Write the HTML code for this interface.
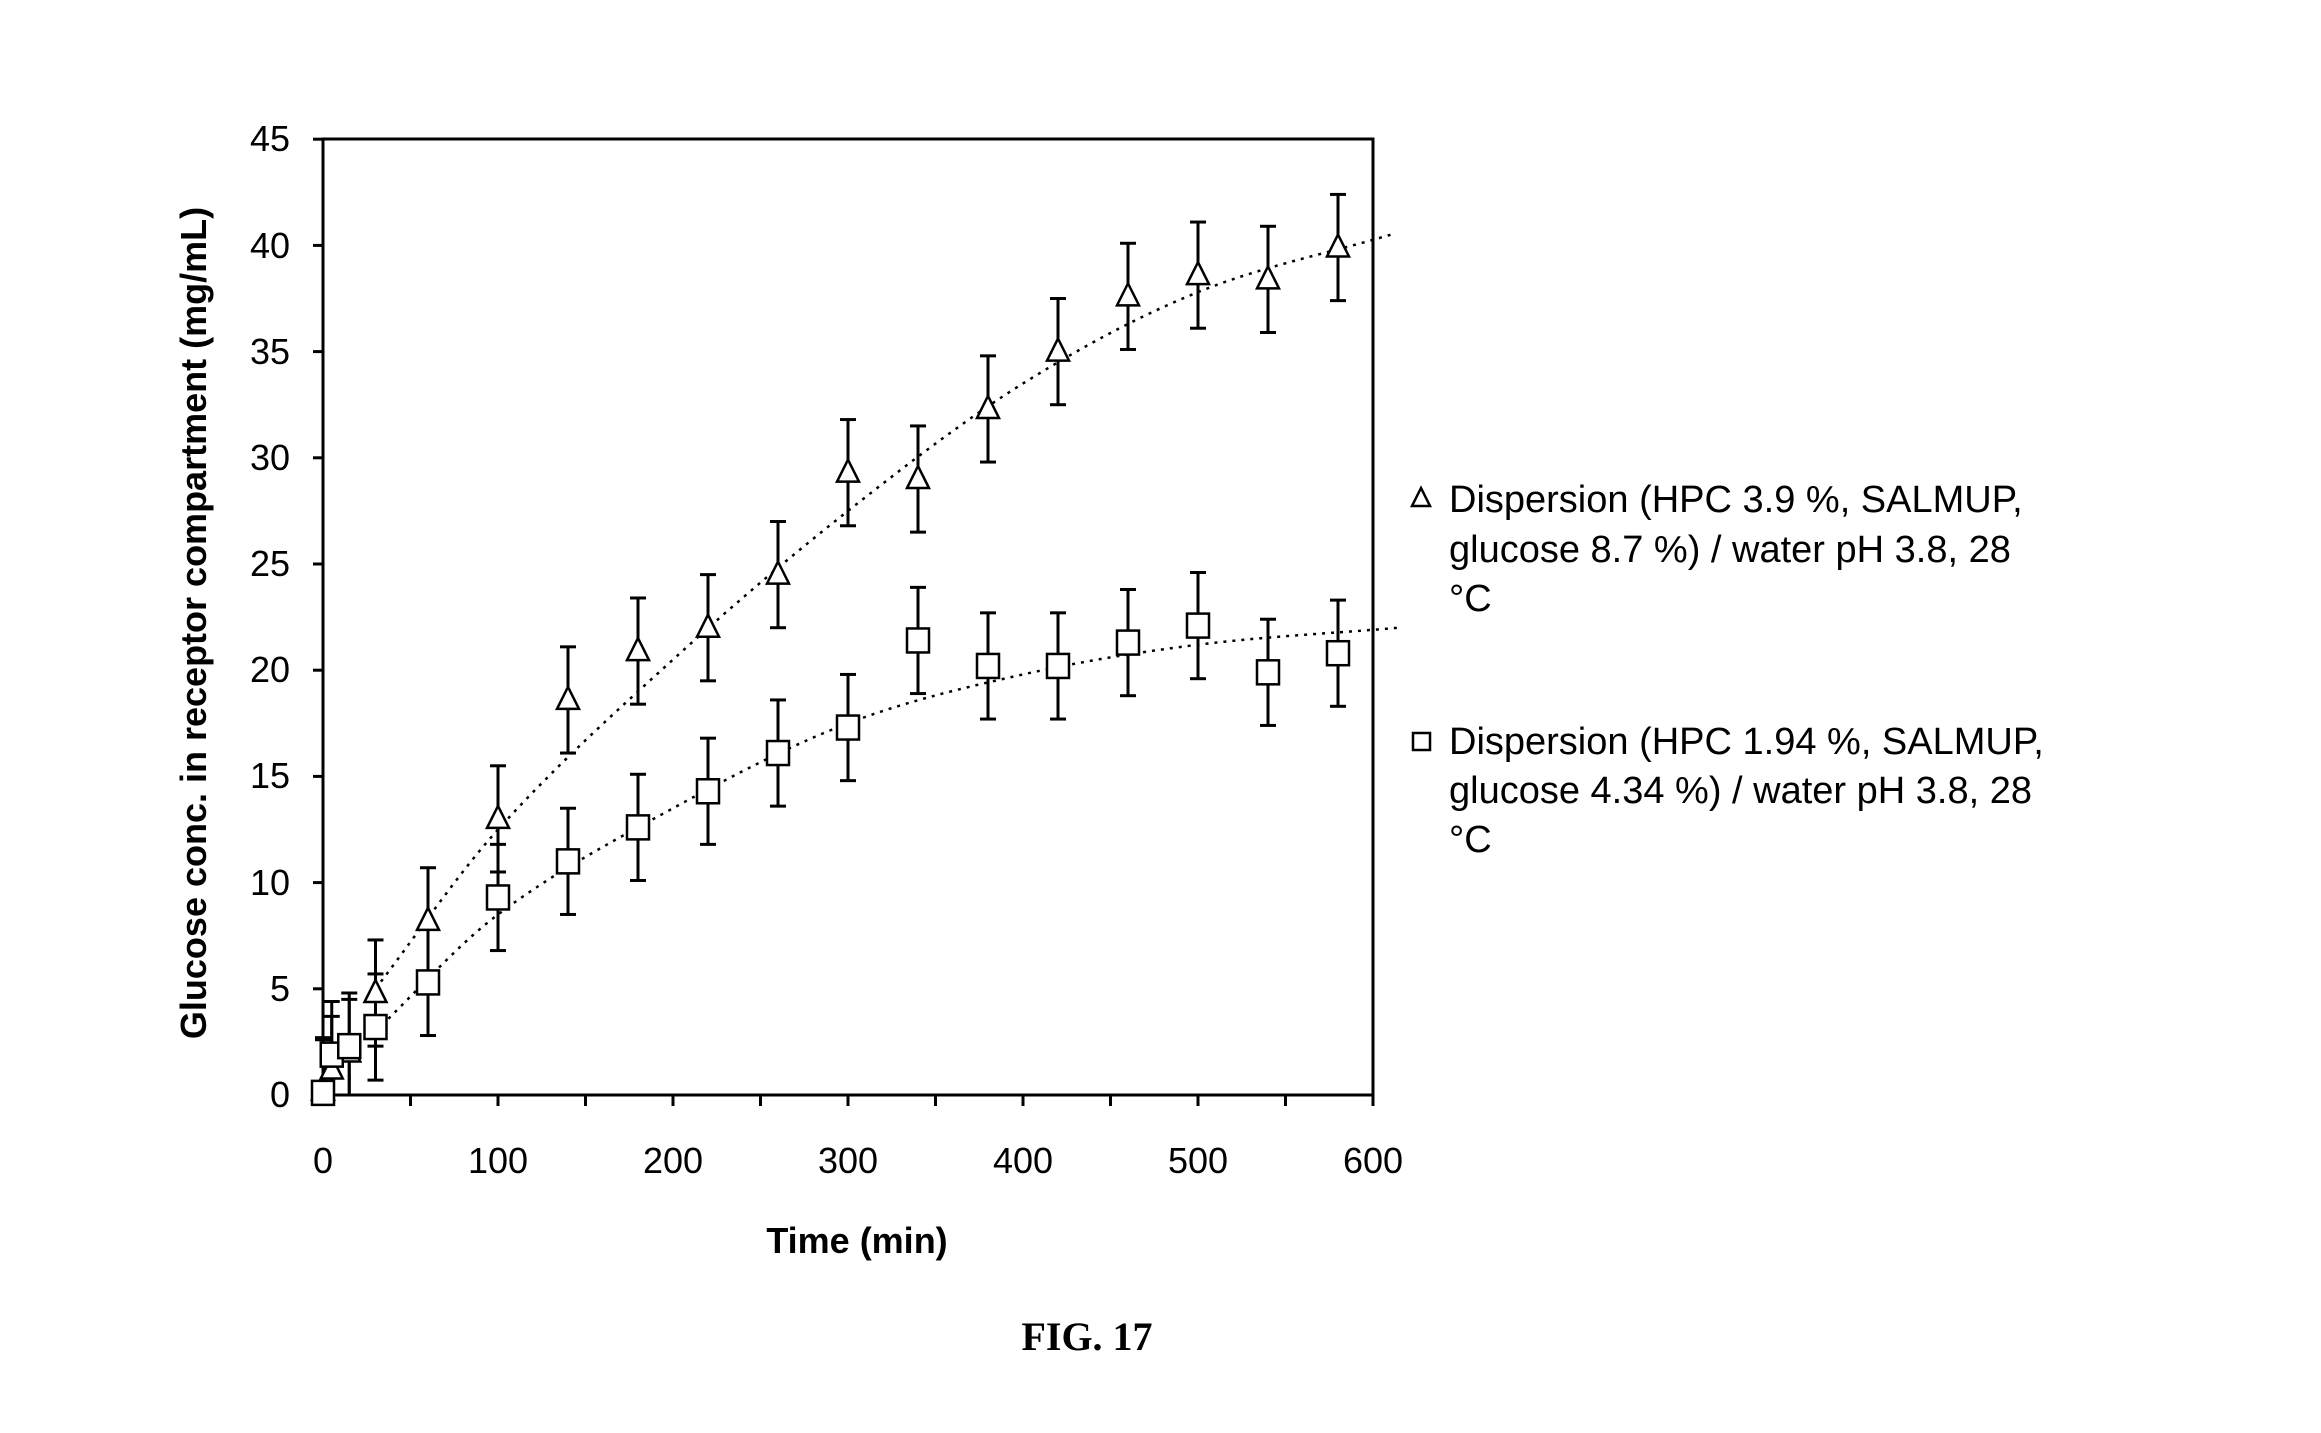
<!DOCTYPE html>
<html><head><meta charset="utf-8"><style>
html,body{margin:0;padding:0;background:#fff;}
svg{display:block;}
</style></head><body>
<svg id="s" width="2321" height="1433" viewBox="0 0 2321 1433" xmlns="http://www.w3.org/2000/svg" font-family="Liberation Sans, sans-serif">
<rect width="2321" height="1433" fill="#fff"/>
<g id="ax" stroke="#000" stroke-width="3" fill="none">
<rect x="323" y="139" width="1050" height="956"/>
</g>
<g id="ticks" stroke="#000" stroke-width="3"></g>
<g font-size="36" fill="#000" text-anchor="end">
<text x="290" y="1107">0</text><text x="290" y="1001">5</text><text x="290" y="895">10</text><text x="290" y="788">15</text><text x="290" y="682">20</text><text x="290" y="576">25</text><text x="290" y="470">30</text><text x="290" y="364">35</text><text x="290" y="258">40</text><text x="290" y="151">45</text>
</g>
<g font-size="36" fill="#000" text-anchor="middle">
<text x="323" y="1173">0</text><text x="498" y="1173">100</text><text x="673" y="1173">200</text><text x="848" y="1173">300</text><text x="1023" y="1173">400</text><text x="1198" y="1173">500</text><text x="1373" y="1173">600</text>
</g>
<text x="857" y="1253" font-size="36" font-weight="bold" text-anchor="middle">Time (min)</text>
<text transform="translate(206,623) rotate(-90)" font-size="36" font-weight="bold" text-anchor="middle">Glucose conc. in receptor compartment (mg/mL)</text>
<text x="1087" y="1350" font-size="40" font-weight="bold" text-anchor="middle" font-family="Liberation Serif, serif">FIG. 17</text>
<g font-size="38" fill="#000">
<text x="1449" y="512">Dispersion (HPC 3.9 %, SALMUP,</text>
<text x="1449" y="562">glucose 8.7 %) / water pH 3.8, 28</text>
<text x="1449" y="611">°C</text>
<text x="1449" y="754">Dispersion (HPC 1.94 %, SALMUP,</text>
<text x="1449" y="803">glucose 4.34 %) / water pH 3.8, 28</text>
<text x="1449" y="852">°C</text>
</g>
<polygon points="1421,488 1412,506 1430,506" fill="#fff" stroke="#000" stroke-width="2.5"/>
<rect x="1413" y="733" width="17" height="17" fill="#fff" stroke="#000" stroke-width="2.5"/>
<g id="data"></g>
</svg>
<script>
var X=function(t){return 323+t*1.75},Y=function(v){return 1095-v*21.24};
var ns="http://www.w3.org/2000/svg",tk=document.getElementById('ticks'),d=document.getElementById('data');
function el(p,tag,a){var e=document.createElementNS(ns,tag);for(var k in a)e.setAttribute(k,a[k]);p.appendChild(e);return e;}
for(var v=0;v<=45;v+=5)el(tk,'line',{x1:313,x2:323,y1:Y(v),y2:Y(v)});
for(var t=0;t<=600;t+=50)el(tk,'line',{x1:X(t),x2:X(t),y1:1095,y2:1106});
function curve(pts){var s='M'+X(pts[0][0])+','+Y(pts[0][1]);for(var i=1;i<pts.length;i++){s+=' L'+X(pts[i][0])+','+Y(pts[i][1]);}return s;}
function smooth(pts){var r=[];for(var t=pts[0][0];t<=pts[pts.length-1][0];t+=5){for(var i=0;i<pts.length-1;i++){if(t>=pts[i][0]&&t<=pts[i+1][0]){var p0=pts[Math.max(0,i-1)],p1=pts[i],p2=pts[i+1],p3=pts[Math.min(pts.length-1,i+2)];var u=(t-p1[0])/(p2[0]-p1[0]);var m1=(p2[1]-p0[1])/(p2[0]-p0[0])*(p2[0]-p1[0]),m2=(p3[1]-p1[1])/(p3[0]-p1[0])*(p2[0]-p1[0]);var h=(2*u*u*u-3*u*u+1)*p1[1]+(u*u*u-2*u*u+u)*m1+(-2*u*u*u+3*u*u)*p2[1]+(u*u*u-u*u)*m2;r.push([t,h]);break;}}}return r;}
el(d,'path',{d:curve(smooth([[30,5],[100,12.5],[200,20.5],[300,27.5],[400,33.5],[500,37.8],[610,40.5]])),fill:'none',stroke:'#000','stroke-width':2.5,'stroke-dasharray':'3,6'});
el(d,'path',{d:curve(smooth([[30,3],[100,8.5],[200,13.5],[300,17.5],[400,19.8],[500,21.2],[615,22]])),fill:'none',stroke:'#000','stroke-width':2.5,'stroke-dasharray':'3,6'});
var tri=[[0,0.2],[5,1.2],[15,2],[30,4.8],[60,8.2],[100,13],[140,18.6],[180,20.9],[220,22],[260,24.5],[300,29.3],[340,29],[380,32.3],[420,35],[460,37.6],[500,38.6],[540,38.4],[580,39.9]];
var sq=[[0,0.1],[5,1.9],[15,2.3],[30,3.2],[60,5.3],[100,9.3],[140,11],[180,12.6],[220,14.3],[260,16.1],[300,17.3],[340,21.4],[380,20.2],[420,20.2],[460,21.3],[500,22.1],[540,19.9],[580,20.8]];
function eb(p){var x=X(p[0]),lo=Y(Math.max(0,p[1]-2.5)),hi=Y(p[1]+2.5);el(d,'line',{x1:x,x2:x,y1:lo,y2:hi,stroke:'#000','stroke-width':3});el(d,'line',{x1:x-8,x2:x+8,y1:lo,y2:lo,stroke:'#000','stroke-width':3});el(d,'line',{x1:x-8,x2:x+8,y1:hi,y2:hi,stroke:'#000','stroke-width':3});}
tri.forEach(eb);sq.forEach(eb);
tri.forEach(function(p){var x=X(p[0]),y=Y(p[1]);el(d,'polygon',{points:x+','+(y-13)+' '+(x-11)+','+(y+9)+' '+(x+11)+','+(y+9),fill:'#fff',stroke:'#000','stroke-width':2.5});});
sq.forEach(function(p){var x=X(p[0]),y=Y(p[1]);el(d,'rect',{x:x-11,y:y-12,width:22,height:24,fill:'#fff',stroke:'#000','stroke-width':2.5});});
</script>
</body></html>
